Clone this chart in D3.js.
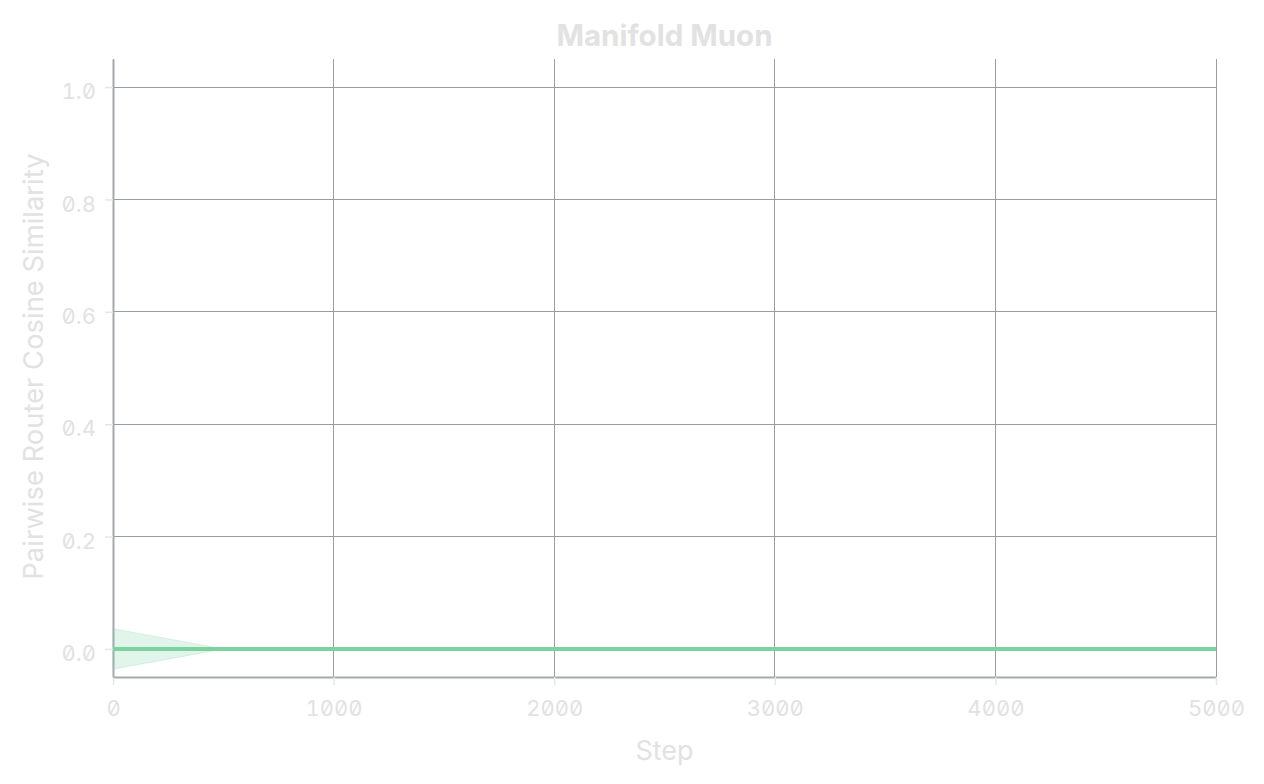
<!DOCTYPE html>
<html><head><meta charset="utf-8">
<script src="https://cdn.jsdelivr.net/npm/d3@7"></script>
<style>
html,body{margin:0;padding:0;background:#fff;}
svg{display:block;}
.tick text{font-family:Inter,sans-serif;font-feature-settings:"tnum" 1,"zero" 1;}
</style></head>
<body>
<svg id="chart" width="1264" height="784"></svg>
<script>
const steps = [0, 500, 1000, 1500, 2000, 2500, 3000, 3500, 4000, 4500, 5000];
const meanValues = [0, 0, 0, 0, 0, 0, 0, 0, 0, 0, 0];
const lowerValues = [-0.036, 0, 0, 0, 0, 0, 0, 0, 0, 0, 0];
const upperValues = [0.036, 0, 0, 0, 0, 0, 0, 0, 0, 0, 0];
const xTicks = [0, 1000, 2000, 3000, 4000, 5000];
const yTicks = [0.0, 0.2, 0.4, 0.6, 0.8, 1.0];
const titleText = "Manifold Muon";
const xLabel = "Step";
const yLabel = "Pairwise Router Cosine Similarity";

(function(){
const data = steps.map((s,i)=>({s, m:meanValues[i], lo:lowerValues[i], hi:upperValues[i]}));
const svg = d3.select("#chart");
const mL=113, mR=1216, mT=59, mB=677;
const x = d3.scaleLinear().domain([0,5000]).range([mL,mR]);
const y = d3.scaleLinear().domain([-0.05,1.05]).range([mB,mT]);
const textColor="#e2e2e2";
const gridColor="#999ca3";

// grid
svg.append("g").attr("shape-rendering","crispEdges").selectAll("line").data(yTicks).join("line")
  .attr("x1",mL).attr("x2",mR).attr("y1",d=>y(d)).attr("y2",d=>y(d))
  .attr("stroke",gridColor).attr("stroke-width",1);
svg.append("g").attr("shape-rendering","crispEdges").selectAll("line").data(xTicks).join("line")
  .attr("x1",d=>x(d)).attr("x2",d=>x(d)).attr("y1",mT).attr("y2",mB)
  .attr("stroke",gridColor).attr("stroke-width",1);

// axes
const xAxis = svg.append("g").attr("transform",`translate(0,${mB})`)
  .call(d3.axisBottom(x).tickValues(xTicks).tickFormat(d3.format("d")).tickSizeInner(8).tickSizeOuter(0).tickPadding(15));
const yAxis = svg.append("g").attr("transform",`translate(${mL},0)`)
  .call(d3.axisLeft(y).tickValues(yTicks).tickFormat(d3.format(".1f")).tickSizeInner(8).tickSizeOuter(0).tickPadding(9));
[xAxis,yAxis].forEach(g=>{
  g.select(".domain").attr("stroke","#a5a8ad").attr("stroke-width",2);
  g.selectAll(".tick line").attr("stroke","#e6e6e6").attr("stroke-width",1.5);
  g.selectAll(".tick text").attr("fill",textColor).attr("font-size",22);
});
yAxis.selectAll(".tick text").attr("dy","0.53em");

// band
const area = d3.area().x(d=>x(d.s)).y0(d=>y(d.lo)).y1(d=>y(d.hi));
svg.append("path").datum(data).attr("d",area)
  .attr("fill","rgba(125,211,160,0.22)").attr("stroke","rgba(125,211,160,0.25)").attr("stroke-width",1);
// line
const line = d3.line().x(d=>x(d.s)).y(d=>y(d.m));
svg.append("path").datum(data).attr("d",line)
  .attr("fill","none").attr("stroke","#7dd3a0").attr("stroke-width",4);

// labels
svg.append("text").attr("x",(mL+mR)/2).attr("y",46).attr("text-anchor","middle")
  .attr("font-family","Inter,sans-serif").attr("font-weight",700).attr("font-size",29.5)
  .attr("fill",textColor).text(titleText);
svg.append("text").attr("x",(mL+mR)/2).attr("y",760).attr("text-anchor","middle")
  .attr("font-family","Inter,sans-serif").attr("font-size",27)
  .attr("fill",textColor).text(xLabel);
svg.append("text").attr("transform",`translate(43,366.5) rotate(-90)`).attr("text-anchor","middle")
  .attr("font-family","Inter,sans-serif").attr("font-size",27.4)
  .attr("fill",textColor).text(yLabel);
})();
</script>
</body></html>
